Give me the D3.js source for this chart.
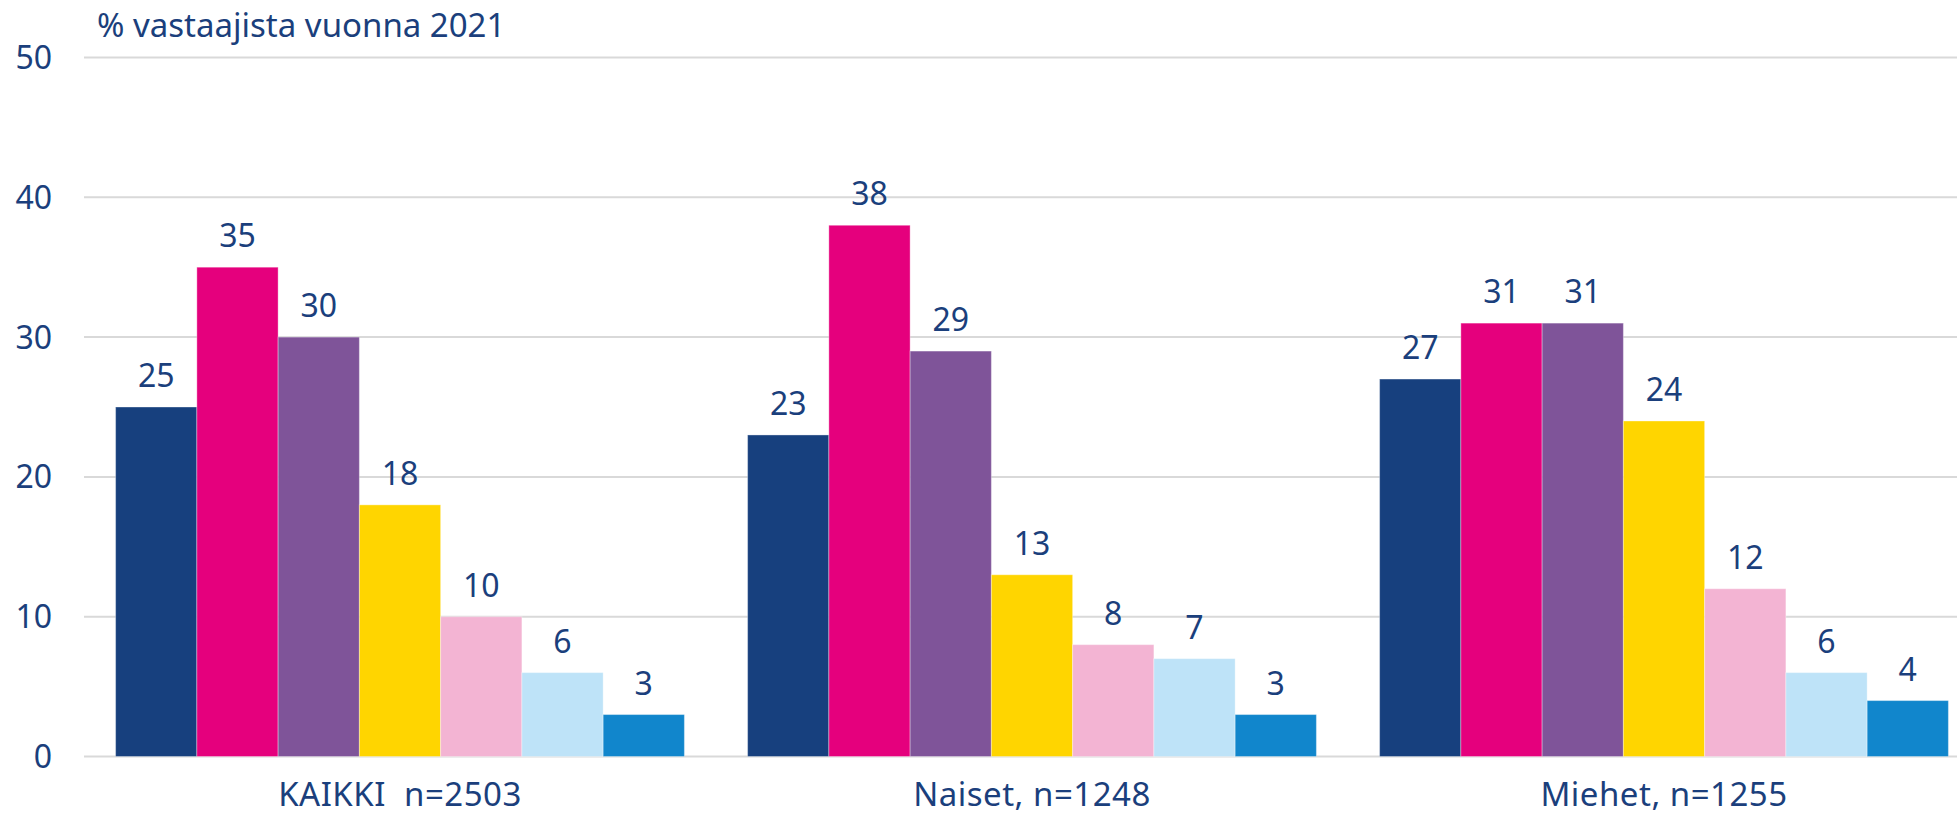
<!DOCTYPE html>
<html>
<head>
<meta charset="utf-8">
<script src="https://cdn.jsdelivr.net/npm/d3@7"></script>
<style>
    body { margin: 0; background: #fff; }
    svg { display: block; font-family: "Noto Sans", sans-serif; }
    .txt { fill: #1b3f7c; }
</style>
</head>
<body>
<div id="chart"></div>
<script>
// data
const groups = ['KAIKKI  n=2503', 'Naiset, n=1248', 'Miehet, n=1255'];
const series = ['s1', 's2', 's3', 's4', 's5', 's6', 's7'];
const values = [
    [25, 35, 30, 18, 10, 6, 3],
    [23, 38, 29, 13, 8, 7, 3],
    [27, 31, 31, 24, 12, 6, 4]
];
const colors = ['#17407e', '#e5007d', '#7f5499', '#ffd500', '#f3b4d3', '#bee3f8', '#1186cc'];
const yTicks = [0, 10, 20, 30, 40, 50];
const yTitle = '% vastaajista vuonna 2021';

const W = 1957, H = 815;
const plotLeft = 84, plotRight = 1980;
const plotTop = 57.5, plotBottom = 756.5;

const svg = d3.select('#chart').append('svg')
    .attr('width', W)
    .attr('height', H);

const x0 = d3.scaleBand()
    .domain(groups)
    .range([plotLeft, plotRight])
    .paddingInner(0.1)
    .paddingOuter(0.05);

const x1 = d3.scaleBand()
    .domain(series)
    .range([0, x0.bandwidth()]);

const y = d3.scaleLinear()
    .domain([0, 50])
    .range([plotBottom, plotTop]);

// gridlines
svg.append('g').selectAll('line')
    .data(yTicks)
    .join('line')
        .attr('x1', plotLeft)
        .attr('x2', W)
        .attr('y1', d => y(d))
        .attr('y2', d => y(d))
        .attr('stroke', '#d9d9d9')
        .attr('stroke-width', 2);

// y labels
svg.append('g').selectAll('text')
    .data(yTicks)
    .join('text')
        .attr('class', 'txt')
        .attr('x', 52)
        .attr('y', d => y(d))
        .attr('dy', '0.36em')
        .attr('text-anchor', 'end')
        .style('font-size', '32px')
        .text(d => d);

svg.append('text')
    .attr('class', 'txt')
    .attr('x', 97)
    .attr('y', 37)
    .style('font-size', '33px')
    .text(yTitle);

// bars
const rows = groups.map((g, i) => ({group: g, vals: values[i]}));

const grp = svg.append('g').selectAll('g')
    .data(rows)
    .join('g')
        .attr('transform', d => `translate(${x0(d.group)},0)`);

grp.selectAll('rect')
    .data(d => d.vals.map((v, j) => ({key: series[j], v: v, c: colors[j]})))
    .join('rect')
        .attr('x', d => x1(d.key))
        .attr('width', x1.bandwidth())
        .attr('y', d => y(d.v))
        .attr('height', d => y(0) - y(d.v))
        .attr('fill', d => d.c)
        .attr('stroke', 'rgba(255,255,255,0.35)')
        .attr('stroke-width', 1);

grp.selectAll('text')
    .data(d => d.vals.map((v, j) => ({key: series[j], v: v})))
    .join('text')
        .attr('class', 'txt')
        .attr('x', d => x1(d.key) + x1.bandwidth() / 2)
        .attr('y', d => y(d.v) - 20)
        .attr('text-anchor', 'middle')
        .style('font-size', '32px')
        .text(d => d.v);

// category labels
svg.append('g').selectAll('text')
    .data(groups)
    .join('text')
        .attr('class', 'txt')
        .attr('x', d => x0(d) + x0.bandwidth() / 2)
        .attr('y', 806)
        .attr('text-anchor', 'middle')
        .style('font-size', '33px')
        .style('letter-spacing', '0.5px')
        .style('white-space', 'pre')
        .text(d => d);
</script>
</body>
</html>
